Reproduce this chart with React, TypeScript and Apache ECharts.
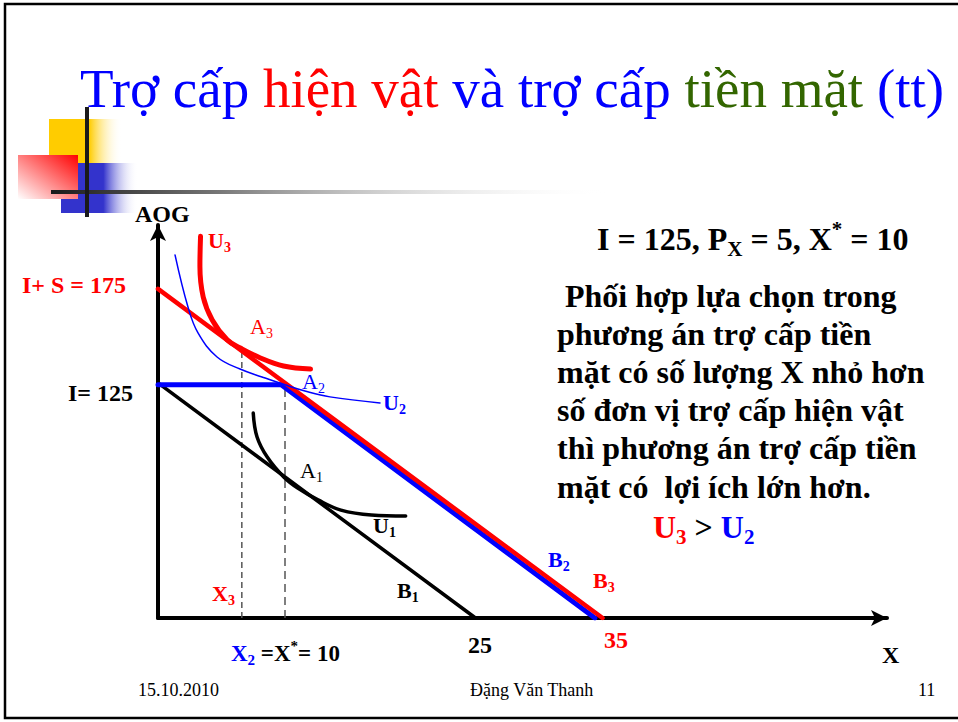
import React, { useEffect, useRef } from "react";
import * as echarts from "echarts";

// ---- data ----
const incomeLine = [[0, 125], [25, 0]]; // B1: I = 125, Px = 5
const cashLine = [[0, 124], [9.7, 124], [34.4, 0]]; // B2 (in-kind subsidy, X* = 10), drawn just under B3
const subsidyLine = [[0, 175], [35, 0]]; // B3: I + S = 175
const curveU1 = [[7.5, 109], [7.8, 96.3], [8.6, 85.6], [9.9, 75], [11, 69.1], [12.6, 62.8], [14.4, 57.4], [16.8, 54.8], [19.5, 54.3]];
const curveU2 = [[1.34, 193.1], [2.36, 165.4], [3.15, 151.6], [4.65, 138.8], [6.46, 132.4], [8.19, 128.2], [10, 124], [11.57, 120.7], [13.54, 117.6], [17.48, 114.4]];
const curveU3 = [[3.35, 203], [3.3, 187], [3.56, 170.7], [4.27, 158.5], [5.45, 147.9], [6.48, 143.6], [8.06, 138.3], [9.88, 134], [12.01, 132.4]];
const dropX3 = [[6.6, 0], [6.6, 142]];
const dropX2 = [[10, 0], [10, 125]];
const xMax = 57.4;
const yMax = 209;

const FONT = '"Liberation Serif", "Times New Roman", serif';
const BLUE = "#0000FF";
const RED = "#FF0000";
const GREEN = "#336600";
const BLACK = "#000000";

let ctx: CanvasRenderingContext2D | null = null;
function measure(text: string, size: number, bold: boolean) {
  if (!ctx) ctx = document.createElement("canvas").getContext("2d");
  ctx!.font = `${bold ? "bold " : ""}${size}px ${FONT}`;
  return ctx!.measureText(text).width;
}

type Part = { t: string; c?: string; s?: number; dy?: number; b?: boolean };
function run(x: number, y: number, size: number, bold: boolean, color: string, parts: Part[]) {
  const out: any[] = [];
  let cx = x;
  for (const p of parts) {
    const s = p.s ?? size;
    const b = p.b ?? bold;
    const font = `${b ? "bold " : ""}${s}px ${FONT}`;
    out.push({
      type: "text",
      x: cx,
      y: y + (p.dy ?? 0),
      silent: true,
      z: 50,
      style: {
        text: p.t,
        font,
        fill: p.c ?? color,
        align: "left",
        verticalAlign: "middle",
        textAlign: "left",
        textVerticalAlign: "middle",
      },
    });
    cx += measure(p.t, s, b);
  }
  return out;
}
const sub = (t: string, size: number, c?: string): Part => ({ t, s: Math.round(size * 0.65), dy: size * 0.32, c });
const sup = (t: string, size: number, c?: string): Part => ({ t, s: Math.round(size * 0.65), dy: -size * 0.3, c });

const paragraph = [
  " Phối hợp lựa chọn trong",
  "phương án trợ cấp tiền",
  "mặt có số lượng X nhỏ hơn",
  "số đơn vị trợ cấp hiện vật",
  "thì phương án trợ cấp tiền",
  "mặt có  lợi ích lớn hơn.",
];

function buildGraphics() {
  const g: any[] = [];
  // frame
  g.push({ type: "rect", shape: { x: 5, y: 4, width: 1000, height: 714 }, style: { fill: "none", stroke: "#000", lineWidth: 2.5 }, silent: true });
  // decoration
  g.push({
    type: "rect", shape: { x: 49, y: 119, width: 73, height: 44 }, silent: true,
    style: { fill: new echarts.graphic.LinearGradient(0, 0, 1, 0, [{ offset: 0, color: "#FFCC00" }, { offset: 0.55, color: "#FFCC00" }, { offset: 1, color: "rgba(255,255,255,0)" }]) },
  });
  g.push({
    type: "rect", shape: { x: 61, y: 163, width: 77, height: 50 }, silent: true,
    style: { fill: new echarts.graphic.LinearGradient(0, 0, 1, 0, [{ offset: 0, color: "#3333CC" }, { offset: 0.55, color: "#3333CC" }, { offset: 1, color: "rgba(255,255,255,0)" }]) },
  });
  g.push({
    type: "rect", shape: { x: 18, y: 155, width: 60, height: 44 }, silent: true,
    style: { fill: new echarts.graphic.LinearGradient(1, 0, 0, 1, [{ offset: 0, color: "#FF0000" }, { offset: 1, color: "rgba(255,255,255,1)" }]) },
  });
  g.push({
    type: "rect", shape: { x: 51, y: 190, width: 560, height: 4 }, silent: true,
    style: { fill: new echarts.graphic.LinearGradient(0, 0, 1, 0, [{ offset: 0, color: "#1a1a1a" }, { offset: 0.3, color: "#777" }, { offset: 1, color: "rgba(255,255,255,0)" }]) },
  });
  g.push({ type: "rect", shape: { x: 85, y: 107, width: 4, height: 110 }, style: { fill: "#1a1a1a" }, silent: true });

  // title
  g.push(...run(80, 88, 55, false, BLUE, [
    { t: "Trợ cấp ", c: BLUE }, { t: "hiện vật ", c: RED }, { t: "và trợ cấp ", c: BLUE }, { t: "tiền mặt ", c: GREEN }, { t: "(tt)", c: BLUE },
  ]));

  // chart labels
  const L = 24;
  g.push(...run(135, 214, L, true, BLACK, [{ t: "AOG" }]));
  g.push(...run(208, 240, 22, true, RED, [{ t: "U" }, sub("3", 22)]));
  g.push(...run(22, 285, L, true, RED, [{ t: "I+ S = 175" }]));
  g.push(...run(68, 393, L, true, BLACK, [{ t: "I= 125" }]));
  g.push(...run(250, 326, 22, false, RED, [{ t: "A" }, sub("3", 22)]));
  g.push(...run(302, 381, 22, false, BLUE, [{ t: "A" }, sub("2", 22)]));
  g.push(...run(383, 402, 22, true, BLUE, [{ t: "U" }, sub("2", 22)]));
  g.push(...run(300, 470, 22, false, BLACK, [{ t: "A" }, sub("1", 22)]));
  g.push(...run(373, 525, 22, true, BLACK, [{ t: "U" }, sub("1", 22)]));
  g.push(...run(212, 593, 22, true, RED, [{ t: "X" }, sub("3", 22)]));
  g.push(...run(397, 590, 22, true, BLACK, [{ t: "B" }, sub("1", 22)]));
  g.push(...run(548, 559, 22, true, BLUE, [{ t: "B" }, sub("2", 22)]));
  g.push(...run(593, 580, 22, true, RED, [{ t: "B" }, sub("3", 22)]));
  g.push(...run(231, 653, 23, true, BLACK, [{ t: "X", c: BLUE }, sub("2", 23, BLUE), { t: " =X" }, sup("*", 23), { t: "= 10" }]));
  g.push(...run(468, 645, L, true, BLACK, [{ t: "25" }]));
  g.push(...run(604, 640, L, true, RED, [{ t: "35" }]));
  g.push(...run(882, 655, L, true, BLACK, [{ t: "X" }]));

  // right-hand text
  const P = 32;
  g.push(...run(597, 239, P, true, BLACK, [{ t: "I = 125, P" }, sub("X", P), { t: " = 5, X" }, sup("*", P), { t: " = 10" }]));
  const lineYs = [296, 334, 372, 410, 448, 487];
  paragraph.forEach((line, i) => g.push(...run(557, lineYs[i], P, true, BLACK, [{ t: line }])));
  g.push(...run(653, 527, P, true, BLACK, [{ t: "U", c: RED }, sub("3", P, RED), { t: " > " }, { t: "U", c: BLUE }, sub("2", P, BLUE)]));

  // footer
  g.push(...run(138, 690, 18, false, BLACK, [{ t: "15.10.2010" }]));
  g.push(...run(470, 690, 18, false, BLACK, [{ t: "Đặng Văn Thanh" }]));
  g.push(...run(918, 690, 18, false, BLACK, [{ t: "11" }]));
  return g;
}

function buildOption(): any {
  const lineSeries = (name: string, data: number[][], color: string, width: number, extra: any = {}) => ({
    name, type: "line", data, symbol: "none", silent: true,
    lineStyle: { color, width, cap: "round" }, ...extra,
  });
  return {
    animation: false,
    backgroundColor: "#ffffff",
    grid: { left: 158, right: 958 - 887, top: 225, bottom: 722 - 618 },
    xAxis: {
      type: "value", min: 0, max: xMax,
      axisLine: { show: true, onZero: false, lineStyle: { color: "#000", width: 4 }, symbol: ["none", "arrow"], symbolSize: [12, 16] },
      axisTick: { show: false }, axisLabel: { show: false }, splitLine: { show: false },
    },
    yAxis: {
      type: "value", min: 0, max: yMax,
      axisLine: { show: true, onZero: false, lineStyle: { color: "#000", width: 4 }, symbol: ["none", "arrow"], symbolSize: [12, 16] },
      axisTick: { show: false }, axisLabel: { show: false }, splitLine: { show: false },
    },
    series: [
      lineSeries("X3", dropX3, "#555", 1.5, { lineStyle: { color: "#555", width: 1.5, type: [6, 4] } }),
      lineSeries("X2", dropX2, "#555", 1.5, { lineStyle: { color: "#555", width: 1.5, type: [8, 5] } }),
      lineSeries("B1", incomeLine, "#000", 3.5),
      lineSeries("U1", curveU1, "#000", 3.5, { smooth: 0.4 }),
      lineSeries("B2", cashLine, BLUE, 5),
      lineSeries("B3", subsidyLine, RED, 4.5),
      lineSeries("U3", curveU3, RED, 5, { smooth: 0.4 }),
      lineSeries("U2", curveU2, BLUE, 1.5, { smooth: 0.4 }),
    ],
    graphic: { elements: buildGraphics() },
  };
}

export default function App() {
  const ref = useRef<HTMLDivElement>(null);
  useEffect(() => {
    const chart = echarts.init(ref.current!, null, { renderer: "svg" });
    chart.setOption(buildOption());
    return () => chart.dispose();
  }, []);
  return <div ref={ref} style={{ position: "fixed", left: 0, top: 0, width: 958, height: 722, background: "#fff" }} />;
}
